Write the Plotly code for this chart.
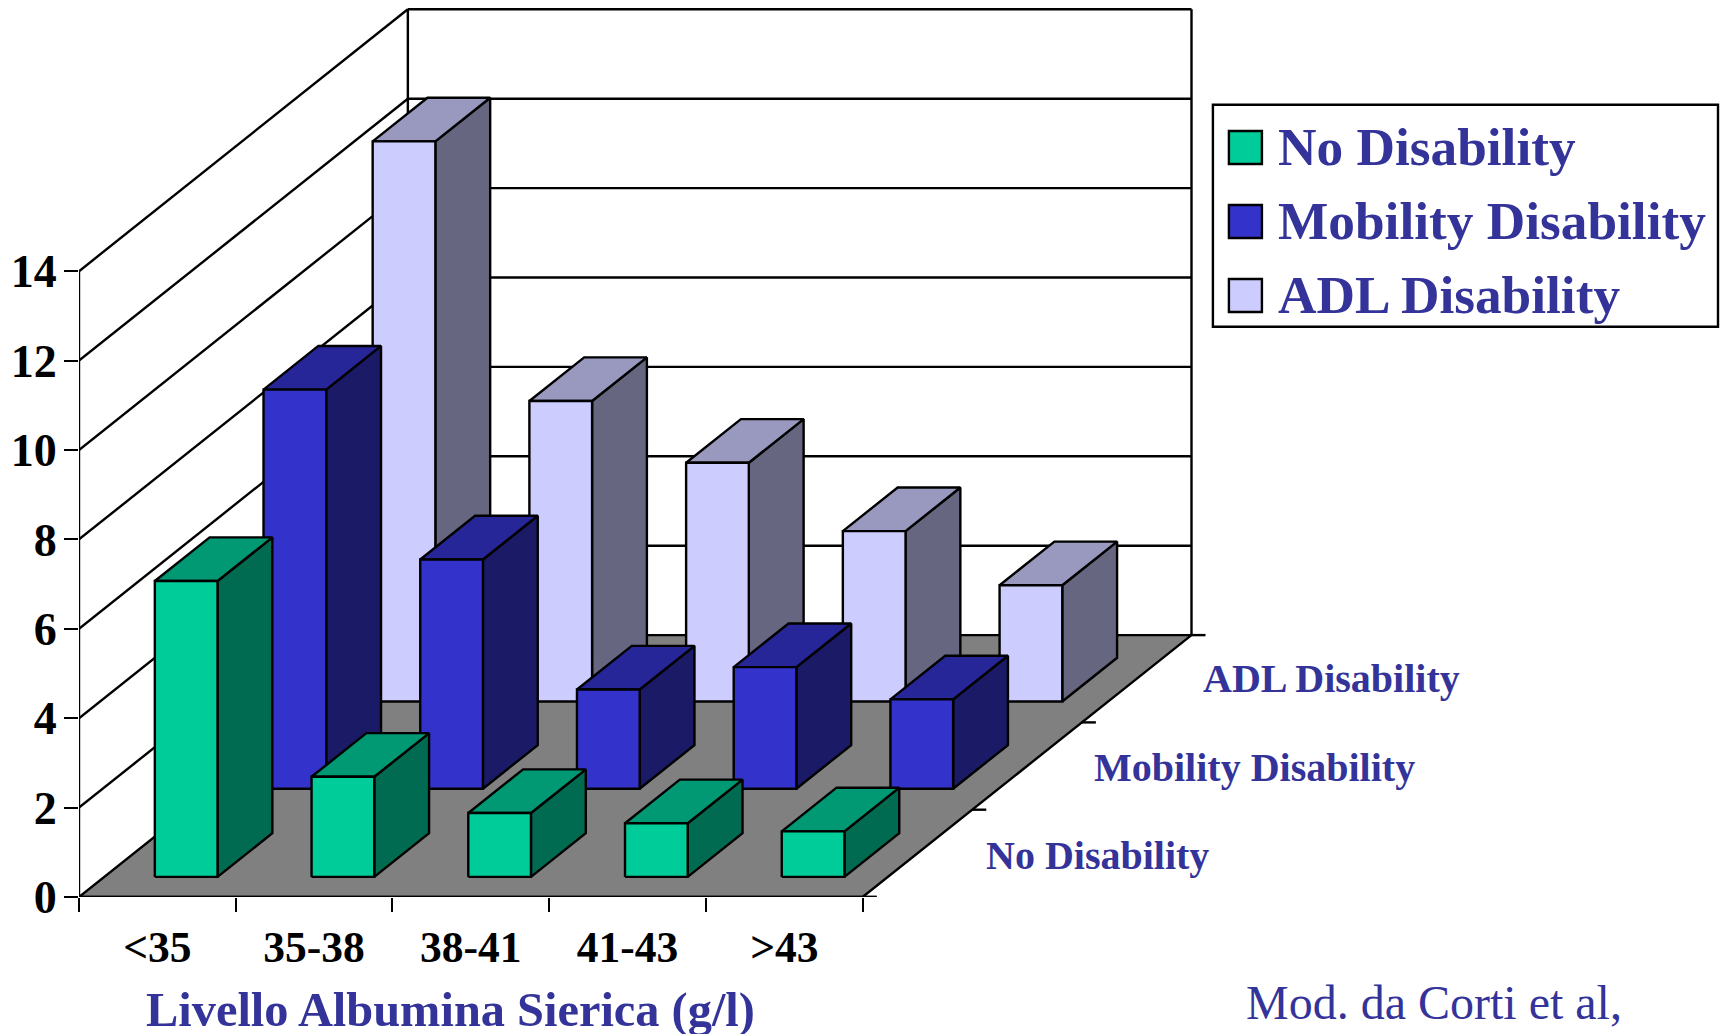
import plotly.graph_objects as go

# categories and values
categories = ["<35", "35-38", "38-41", "41-43", ">43"]
series_names = ["No Disability", "Mobility Disability", "ADL Disability"]
no_disability = [6.62, 2.24, 1.43, 1.20, 1.02]
mobility_disability = [8.93, 5.13, 2.22, 2.72, 2.00]
adl_disability = [12.53, 6.72, 5.34, 3.81, 2.60]
value_ticks = [0, 2, 4, 6, 8, 10, 12, 14]

front_colors = ["#00CC99", "#3333CC", "#CCCCFF"]
side_colors = ["#006B50", "#1A1A66", "#666680"]
top_colors = ["#009973", "#262699", "#9999BF"]
TEXT_BLUE = "#333399"
FONT = "Liberation Serif"

# page geometry in pixels
W, H = 1728, 1034
X0, Y0 = 79.3, 897
CAT_W, VAL_H = 156.7, 44.7
LINE_W = 2.4
# oblique depth of one series row, in axis units
DX, DY = 109.6 / CAT_W, 87.3 / VAL_H
BAR_W = 0.40
BAR_DEPTH = 0.50
ROW_START = [0.323, 0.31, 0.307]
ROW_FRONT = [0.23, 0.24, 0.24]
TICK = 14


def px(p):
    return (p - X0) / CAT_W


def py(p):
    return (Y0 - p) / VAL_H


def proj(cat, val, depth):
    return cat + depth * DX, val + depth * DY


def poly(points):
    xs = [p[0] for p in points] + [points[0][0], None]
    ys = [p[1] for p in points] + [points[0][1], None]
    return xs, ys


def add_poly(fig, polys, color):
    xs, ys = [], []
    for pts in polys:
        a, b = poly(pts)
        xs += a
        ys += b
    fig.add_trace(go.Scatter(x=xs, y=ys, mode="lines", fill="toself", fillcolor=color,
                             line=dict(color="black", width=LINE_W), hoverinfo="skip",
                             showlegend=False))


def add_lines(fig, segments):
    xs, ys = [], []
    for (a, b) in segments:
        xs += [a[0], b[0], None]
        ys += [a[1], b[1], None]
    fig.add_trace(go.Scatter(x=xs, y=ys, mode="lines", line=dict(color="black", width=LINE_W),
                             hoverinfo="skip", showlegend=False))


fig = go.Figure()

n_cat = len(categories)
n_ser = len(series_names)
top_val = value_ticks[-1]

# walls: grid lines on the left and back sides
grid = []
for v in value_ticks[1:]:
    grid.append((proj(0, v, 0), proj(0, v, n_ser)))
    grid.append((proj(0, v, n_ser), proj(n_cat, v, n_ser)))
grid.append((proj(0, 0, 0), proj(0, top_val, 0)))
grid.append((proj(0, 0, n_ser), proj(0, top_val, n_ser)))
grid.append((proj(n_cat, 0, n_ser), proj(n_cat, top_val, n_ser)))
add_lines(fig, grid)

# floor
add_poly(fig, [[proj(0, 0, 0), proj(n_cat, 0, 0), proj(n_cat, 0, n_ser), proj(0, 0, n_ser)]], "#808080")

# axis edge lines and the ticks of the depth axis
edges = [((-TICK / CAT_W, 0), (n_cat + TICK / CAT_W, 0))]
for s in range(n_ser + 1):
    base = proj(n_cat, 0, s)
    edges.append((base, (base[0] + TICK / CAT_W, base[1])))
add_lines(fig, edges)

# bars, back row first
all_values = [no_disability, mobility_disability, adl_disability]
for s in reversed(range(n_ser)):
    fronts, sides, tops = [], [], []
    d0 = s + ROW_FRONT[s]
    d1 = d0 + BAR_DEPTH
    for c, v in enumerate(all_values[s]):
        c0 = c + ROW_START[s]
        c1 = c0 + BAR_W
        fronts.append([proj(c0, 0, d0), proj(c1, 0, d0), proj(c1, v, d0), proj(c0, v, d0)])
        sides.append([proj(c1, 0, d0), proj(c1, 0, d1), proj(c1, v, d1), proj(c1, v, d0)])
        tops.append([proj(c0, v, d0), proj(c1, v, d0), proj(c1, v, d1), proj(c0, v, d1)])
    add_poly(fig, sides, side_colors[s])
    add_poly(fig, tops, top_colors[s])
    add_poly(fig, fronts, front_colors[s])


def label(text, x, baseline, size, color=TEXT_BLUE, weight="bold", anchor="left"):
    # baseline in pixels; the text box hangs about 0.22 em below it.
    # y goes through paper so text under the x axis is not dropped
    y = (Y0 - (baseline + 0.22 * size)) / Y0
    fig.add_annotation(text=text, x=px(x), y=y, xref="x", yref="paper",
                       xanchor=anchor, yanchor="bottom", showarrow=False, borderpad=0,
                       font=dict(family=FONT, size=size, color=color, weight=weight))


# series names along the depth axis
depth_label_x = [985, 1093.4, 1202]
depth_label_y = [870, 782, 693]
for name, x, y in zip(series_names, depth_label_x, depth_label_y):
    label(name, x, y, 40)

label("Livello Albumina Sierica (g/l)", 451, 1027, 48.4, anchor="center")
label("Mod. da Corti et al,", 1245, 1019, 48, weight="normal")

# hand drawn legend box, the built-in one cannot size its swatches like this
fig.add_shape(type="rect", x0=px(1213), x1=px(1718), y0=py(104.7), y1=py(326.7),
              line=dict(color="black", width=LINE_W), fillcolor="white")
swatch_tops = [131, 205, 279]
legend_baselines = [166, 240, 314]
for s, name in enumerate(series_names):
    fig.add_shape(type="rect", x0=px(1229), x1=px(1262), y0=py(swatch_tops[s]), y1=py(swatch_tops[s] + 33),
                  line=dict(color="black", width=LINE_W), fillcolor=front_colors[s])
    label(name, 1277, legend_baselines[s], 53.3)

fig.update_layout(
    width=W, height=H, margin=dict(l=X0, r=0, t=0, b=H - Y0, pad=0),
    paper_bgcolor="white", plot_bgcolor="white", showlegend=False, hovermode=False,
    xaxis=dict(range=[0, px(W)], showgrid=False, zeroline=False, showline=False,
               tickmode="array", tickvals=[c + 0.5 for c in range(n_cat)], ticktext=categories,
               ticks="", ticklabelstandoff=20,
               tickfont=dict(family=FONT, size=43.5, color="black", weight="bold"),
               minor=dict(tickmode="array", tickvals=list(range(n_cat + 1)), ticks="outside",
                          ticklen=TICK, tickwidth=LINE_W, tickcolor="black", showgrid=False)),
    yaxis=dict(range=[0, py(0)], showgrid=False, zeroline=False, showline=False,
               tickmode="array", tickvals=value_ticks, ticks="outside", ticklen=TICK,
               tickwidth=LINE_W, tickcolor="black", ticklabelstandoff=-2,
               tickfont=dict(family=FONT, size=46, color="black", weight="bold")),
)

fig.write_html("out.html", config={"displayModeBar": False},
               post_script="document.body.style.margin='0';document.body.style.overflow='hidden';")
